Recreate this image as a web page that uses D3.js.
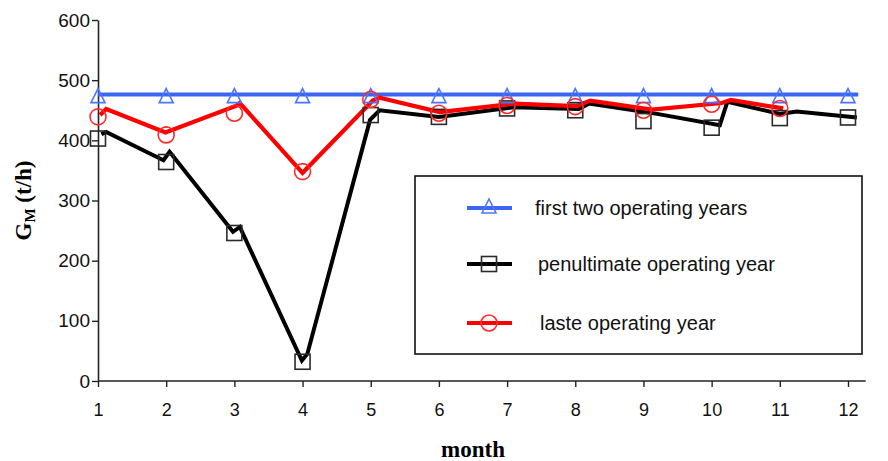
<!DOCTYPE html>
<html>
<head>
<meta charset="utf-8">
<script src="https://cdn.jsdelivr.net/npm/d3@7"></script>
<style>
  html, body { margin: 0; padding: 0; background: #fff; }
  svg { display: block; }
</style>
</head>
<body>
<svg id="chart" width="888" height="461"></svg>
<script>
// ---- data ----
const months = [1, 2, 3, 4, 5, 6, 7, 8, 9, 10, 11, 12];
const yTicks = [0, 100, 200, 300, 400, 500, 600];
const seriesNames = ["first two operating years", "penultimate operating year", "laste operating year"];

// marker values at each month
const blueMarkers  = [476, 476, 476, 476, 476, 476, 476, 476, 476, 476, 476, 476];
const blackMarkers = [403, 364, 246, 32, 442, 439, 453, 450, 432, 421, 437, 438];
const redMarkers   = [439, 409, 445, 348, 468, 445, 458, 456, 450, 460, 453];

// line vertices [month, value]
const blueLine  = [[1, 476], [12.15, 476]];
const blackLine = [[1.05, 410], [1.12, 414], [1.96, 367], [2.05, 381], [2.98, 248], [3.08, 256],
                   [3.99, 34], [4.07, 45], [4.99, 434], [5.13, 450], [6.0, 439], [7.1, 455],
                   [8.05, 452], [8.2, 461], [9.2, 444], [10.12, 425], [10.23, 464], [11.0, 444],
                   [11.25, 448], [12.13, 438]];
const redLine   = [[1.03, 442], [1.12, 452], [1.99, 413], [3.04, 458], [3.08, 462], [4.0, 346],
                   [5.03, 466], [5.13, 471], [6.01, 447], [7.1, 461], [8.02, 457], [8.22, 466],
                   [9.12, 451], [10.15, 462], [10.28, 467], [11.05, 453]];

// ---- chart ----
const svg = d3.select("#chart");
const x = d3.scaleLinear().domain([1, 12]).range([98, 848]);
const y = d3.scaleLinear().domain([0, 600]).range([381, 20]);

const BLUE = "#3b66f5", BLACK = "#000", RED = "#ff0000";

// axes
const yAxis = d3.axisLeft(y).tickValues(yTicks).tickSize(6).tickSizeOuter(0).tickPadding(2);
const gy = svg.append("g").attr("transform", `translate(${x(1)},0)`).call(yAxis);
gy.select(".domain").attr("stroke", "#222").attr("stroke-width", 1.6);
gy.selectAll(".tick line").attr("stroke", "#222").attr("stroke-width", 1.4);
gy.selectAll(".tick text").attr("font-family", "Liberation Sans, Arial, sans-serif")
  .attr("font-size", 19).attr("fill", "#111");

const xAxis = d3.axisBottom(x).tickValues(months).tickSize(6).tickSizeOuter(0).tickPadding(16);
const gx = svg.append("g").attr("transform", `translate(0,${y(0)})`).call(xAxis);
gx.select(".domain").remove();
gx.append("line").attr("x1", x(1)).attr("x2", x(12.26)).attr("y1", 0).attr("y2", 0)
  .attr("stroke", "#222").attr("stroke-width", 1.6);
gx.selectAll(".tick line").attr("stroke", "#222").attr("stroke-width", 1.4);
gx.selectAll(".tick text").attr("font-family", "Liberation Sans, Arial, sans-serif")
  .attr("font-size", 18).attr("fill", "#111");

// axis titles
svg.append("text")
  .attr("x", x(6.5)).attr("y", 457)
  .attr("text-anchor", "middle")
  .attr("font-family", "Liberation Serif, Times New Roman, serif")
  .attr("font-weight", "bold").attr("font-size", 23)
  .text("month");

const yt = svg.append("text")
  .attr("transform", `translate(31,${y(300)}) rotate(-90)`)
  .attr("text-anchor", "middle")
  .attr("font-family", "Liberation Serif, Times New Roman, serif")
  .attr("font-weight", "bold").attr("font-size", 23);
yt.append("tspan").text("G");
yt.append("tspan").attr("font-size", 15).attr("dy", 4).text("M");
yt.append("tspan").attr("dy", -4).text(" (t/h)");

// lines
const line = d3.line().x(d => x(d[0])).y(d => y(d[1]));
svg.append("path").datum(blueLine).attr("d", line).attr("fill", "none")
  .attr("stroke", BLUE).attr("stroke-width", 4);
svg.append("path").datum(blackLine).attr("d", line).attr("fill", "none")
  .attr("stroke", BLACK).attr("stroke-width", 4).attr("stroke-linejoin", "miter");
svg.append("path").datum(redLine).attr("d", line).attr("fill", "none")
  .attr("stroke", RED).attr("stroke-width", 4.2).attr("stroke-linejoin", "miter");

// marker shapes
function triangle(g, cx, cy) {
  g.append("path").attr("d", `M${cx},${cy - 8} L${cx + 7},${cy + 6} L${cx - 7},${cy + 6} Z`)
    .attr("fill", "none").attr("stroke", "#4a76ff").attr("stroke-width", 1.6);
}
function square(g, cx, cy) {
  g.append("rect").attr("x", cx - 7.5).attr("y", cy - 7.5).attr("width", 15).attr("height", 15)
    .attr("fill", "none").attr("stroke", "#2a2a2a").attr("stroke-width", 1.6);
}
function circle(g, cx, cy) {
  g.append("circle").attr("cx", cx).attr("cy", cy).attr("r", 8)
    .attr("fill", "none").attr("stroke", "#ff2a2a").attr("stroke-width", 1.6);
}

const gm = svg.append("g");
blueMarkers.forEach((v, i) => triangle(gm, x(months[i]), y(v) + 2));
blackMarkers.forEach((v, i) => square(gm, x(months[i]), y(v)));
redMarkers.forEach((v, i) => circle(gm, x(months[i]), y(v)));

// legend
const lg = svg.append("g");
lg.append("rect").attr("x", 415).attr("y", 176).attr("width", 447).attr("height", 178)
  .attr("fill", "#fff").attr("stroke", "#111").attr("stroke-width", 1.6);
const legendY = [208, 264, 323];
const legendTextX = [535, 538, 540];
const legendColors = [BLUE, BLACK, RED];
const legendMarkers = [triangle, square, circle];
seriesNames.forEach((name, i) => {
  lg.append("line").attr("x1", 467).attr("x2", 512).attr("y1", legendY[i]).attr("y2", legendY[i])
    .attr("stroke", legendColors[i]).attr("stroke-width", 4);
  legendMarkers[i](lg, 489, legendY[i] + (i === 0 ? -1 : 0));
  lg.append("text").attr("x", legendTextX[i]).attr("y", legendY[i] + 7)
    .attr("font-family", "Liberation Sans, Arial, sans-serif").attr("font-size", 20)
    .attr("fill", "#111").text(name);
});
</script>
</body>
</html>
